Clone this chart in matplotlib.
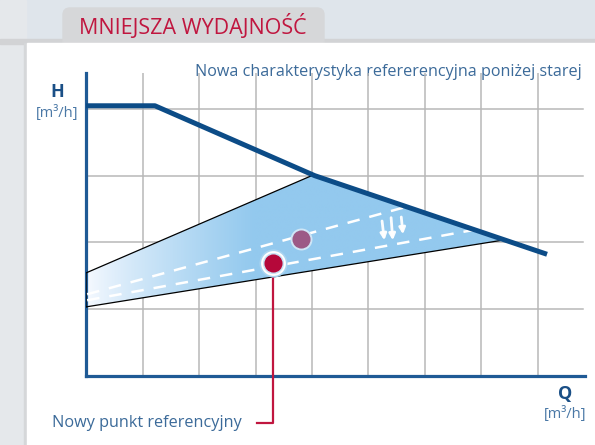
import numpy as np
import matplotlib.pyplot as plt
from matplotlib.patches import Polygon, Rectangle, FancyBboxPatch

plt.rcParams['font.family'] = ['Open Sans', 'DejaVu Sans']

# chart values (grid units: Q along x, H along y)
grid_q = [1, 2, 3, 4, 5, 6, 7, 8]
grid_h = [1, 2, 3, 4]
pump_q = [0.0, 1.22, 4.05, 8.16]
pump_h = [4.05, 4.05, 3.0, 1.82]
zone_q = [0.0, 4.02, 7.36, 0.0]
zone_h = [1.54, 3.01, 2.03, 1.03]
old_q = [0.02, 5.70]
old_h = [1.22, 2.54]
new_q = [0.02, 7.15]
new_h = [1.13, 2.23]
old_point = (3.81, 2.05)
new_point = (3.31, 1.69)
arrows_start = [(5.24, 2.32), (5.40, 2.37), (5.58, 2.38)]
arrows_end = [(5.28, 2.03), (5.43, 2.03), (5.61, 2.12)]

W, H = 595, 445
fig = plt.figure(figsize=(W / 100, H / 100), dpi=100)
fig.patch.set_facecolor('#dfe5eb')

# background decoration in pixel coordinates
bg = fig.add_axes([0, 0, 1, 1])
bg.set_xlim(0, W)
bg.set_ylim(H, 0)
bg.axis('off')
bg.add_patch(Rectangle((0, 0), 26, H, color='#e5e8eb'))
bg.add_patch(Rectangle((0, 39), W, 5, color='#d2d3d5'))
bg.add_patch(FancyBboxPatch((63, 8), 261, 40, boxstyle='round,pad=0,rounding_size=7',
                            color='#d6d7d9'))
bg.add_patch(Rectangle((24, 43), 3, H, color='#d5d7d9'))
bg.add_patch(Rectangle((27, 43), W, H, color='white'))
bg.text(193, 27, 'MNIEJSZA WYDAJNOŚĆ', color='#c0163f', fontsize=15.5,
        ha='center', va='center')
bg.text(582, 72, 'Nowa charakterystyka refererencyjna poniżej starej',
        color='#3b6a99', fontsize=11.65, ha='right', va='center')
bg.text(57, 92, 'H', color='#1a4f86', fontsize=13, fontweight='bold',
        ha='center', va='center')
bg.text(57, 113, '[m³/h]', color='#4a78a6', fontsize=10.5, ha='center', va='center')
bg.text(565, 394, 'Q', color='#1a4f86', fontsize=13, fontweight='bold',
        ha='center', va='center')
bg.text(565, 414, '[m³/h]', color='#4a78a6', fontsize=10.5, ha='center', va='center')

# main chart
ax = fig.add_axes([86 / W, (H - 375.5) / H, (585 - 86) / W, (375.5 - 73) / H])
ax.set_xlim(0, (585 - 86) / 56.5)
ax.set_ylim(0, (375.5 - 73) / 66.6)
ax.patch.set_alpha(0)
for s in ['top', 'right']:
    ax.spines[s].set_visible(False)
for s in ['left', 'bottom']:
    ax.spines[s].set_color('#1f5a95')
    ax.spines[s].set_linewidth(2.3)
ax.set_xticks([])
ax.set_yticks([])

for q in grid_q:
    ax.axvline(q, color='#b8b8b8', lw=1.1, zorder=1)
for h in grid_h:
    ax.plot([0, 8.8], [h, h], color='#b8b8b8', lw=1.1, zorder=1)

# shaded operating zone with gradient
zone = Polygon(list(zip(zone_q, zone_h)), closed=True, facecolor='none',
               edgecolor='none')
ax.add_patch(zone)
xs = np.linspace(0, 1, 256)
ramp = np.clip(xs / 0.4, 0, 1) ** 0.8
c0 = np.array([0.97, 0.98, 1.0])
c1 = np.array([0x93, 0xc9, 0xee]) / 255
img = c0[None, None, :] * (1 - ramp[None, :, None]) + c1[None, None, :] * ramp[None, :, None]
im = ax.imshow(np.repeat(img, 2, axis=0), extent=[0, 7.4, 1.0, 3.05],
               aspect='auto', zorder=2, interpolation='bilinear')
im.set_clip_path(zone)
ax.plot([zone_q[3], zone_q[0], zone_q[1]], [zone_h[3], zone_h[0], zone_h[1]],
        color='black', lw=0.9, zorder=3)
ax.plot([zone_q[3], zone_q[2]], [zone_h[3], zone_h[2]], color='black', lw=0.9, zorder=3)

# dashed characteristics
ax.plot(old_q, old_h, color='white', lw=1.8, dashes=(5, 4), zorder=4)
ax.plot(new_q, new_h, color='white', lw=1.8, dashes=(5, 4), zorder=4)

for (x0, y0), (x1, y1) in zip(arrows_start, arrows_end):
    ax.annotate('', xy=(x1, y1), xytext=(x0, y0), zorder=5,
                arrowprops=dict(arrowstyle='-|>', color='white', lw=2.0,
                                mutation_scale=9, shrinkA=0, shrinkB=0,
                                alpha=0.95))

# pump curve
ax.plot(pump_q, pump_h, color='#0c4c87', lw=3.6, solid_capstyle='butt', zorder=6)

# points
ax.scatter(*old_point, s=250, color='#cfe6f6', zorder=7, linewidths=0)
ax.scatter(*old_point, s=170, color='#9c5a86', zorder=8, linewidths=0)
ax.scatter(*new_point, s=410, color='#a9d4f0', zorder=7, linewidths=0)
ax.scatter(*new_point, s=320, color='white', zorder=8, linewidths=0)
ax.scatter(*new_point, s=230, color='#c8e2f4', zorder=8, linewidths=0)
ax.scatter(*new_point, s=170, color='#b5083a', zorder=9, linewidths=0)

# leader to label
lead_y = (375.5 - 423) / 66.6
ax.plot([new_point[0], new_point[0], 3.03], [new_point[1] - 0.12, lead_y, lead_y],
        color='#c0163f', lw=1.6, clip_on=False, zorder=6)
ax.text(2.75, lead_y, 'Nowy punkt referencyjny', color='#3b6a99', fontsize=11.7,
        ha='right', va='center')

fig.savefig('out.png', dpi=100, facecolor=fig.get_facecolor())
